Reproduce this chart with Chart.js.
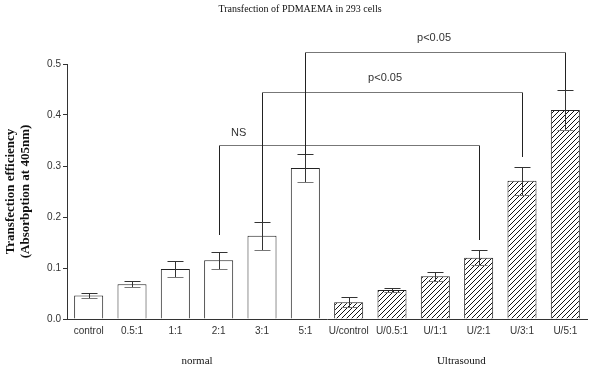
<!DOCTYPE html>
<html>
<head>
<meta charset="utf-8">
<script src="https://cdn.jsdelivr.net/npm/chart.js@4/dist/chart.umd.min.js"></script>
<style>
  html, body { margin: 0; padding: 0; background: #fff; }
  canvas { display: block; }
</style>
</head>
<body>
<canvas id="chart" width="600" height="387" style="width:600px;height:387px"></canvas>
<script>
// data
const categories = ['control', '0.5:1', '1:1', '2:1', '3:1', '5:1',
  'U/control', 'U/0.5:1', 'U/1:1', 'U/2:1', 'U/3:1', 'U/5:1']
const means = [0.046, 0.068, 0.098, 0.115, 0.163, 0.296,
  0.033, 0.057, 0.084, 0.120, 0.271, 0.410]
const errors = [0.0045, 0.006, 0.016, 0.0165, 0.0275, 0.028,
  0.010, 0.004, 0.009, 0.015, 0.028, 0.039]
const hatched = [false, false, false, false, false, false,
  true, true, true, true, true, true]

// significance brackets
const bracketFrom = [3, 4, 5]
const bracketTo = [9, 10, 11]
const bracketLevel = [0.341, 0.445, 0.524]
const bracketLegLeft = [0.165, 0.19, 0.322]
const bracketLegRight = [0.155, 0.318, 0.449]
const bracketText = ['NS', 'p<0.05', 'p<0.05']
const bracketTextAt = [3.46, 6.84, 7.97]
const bracketTextLevel = [0.365, 0.4725, 0.551]

const groupLabels = ['normal', 'Ultrasound']
const groupCenters = [2.5, 8.6]

const titleText = 'Transfection of PDMAEMA in 293 cells'
const yTitle = ['Transfection efficiency', '(Absorbption at 405nm)']

function makeHatch() {
  const s = 5
  const c = document.createElement('canvas')
  c.width = s; c.height = s
  const g = c.getContext('2d')
  g.fillStyle = '#fff'
  g.fillRect(0, 0, s, s)
  g.strokeStyle = '#111'
  g.lineWidth = 1
  g.beginPath()
  g.moveTo(0, s); g.lineTo(s, 0)
  g.moveTo(-1, 1); g.lineTo(1, -1)
  g.moveTo(s - 1, s + 1); g.lineTo(s + 1, s - 1)
  g.stroke()
  return document.getElementById('chart').getContext('2d').createPattern(c, 'repeat')
}
const hatch = makeHatch()

// x pixel for a (possibly fractional) category index
function xAt(scale, idx) {
  const i = Math.floor(idx)
  const a = scale.getPixelForTick(Math.min(i, categories.length - 1))
  if (idx === i) return a
  const b = scale.getPixelForTick(i + 1)
  return a + (b - a) * (idx - i)
}

const extrasPlugin = {
  id: 'extras',
  afterDatasetsDraw(chart) {
    const ctx = chart.ctx
    const { scales } = chart
    const x = scales.x, y = scales.y
    const cap = 8
    ctx.save()
    ctx.lineWidth = 1

    // error bars
    means.forEach((m, i) => {
      const px = Math.round(x.getPixelForTick(i)) + 0.5
      const top = Math.round(y.getPixelForValue(m + errors[i])) + 0.5
      const bot = Math.round(y.getPixelForValue(m - errors[i])) + 0.5
      ctx.strokeStyle = '#333'
      ctx.beginPath()
      ctx.moveTo(px, top); ctx.lineTo(px, bot)
      ctx.moveTo(px - cap, top); ctx.lineTo(px + cap, top)
      ctx.stroke()
      ctx.strokeStyle = '#777'
      ctx.beginPath()
      ctx.moveTo(px - cap, bot); ctx.lineTo(px + cap, bot)
      ctx.stroke()
    })

    // brackets
    bracketFrom.forEach((from, k) => {
      const x1 = Math.round(x.getPixelForTick(from)) + 0.5
      const x2 = Math.round(x.getPixelForTick(bracketTo[k])) + 0.5
      const yl = Math.round(y.getPixelForValue(bracketLevel[k])) + 0.5
      ctx.strokeStyle = '#222'
      ctx.beginPath()
      ctx.moveTo(x1, Math.round(y.getPixelForValue(bracketLegLeft[k])))
      ctx.lineTo(x1, yl)
      ctx.moveTo(x2, yl)
      ctx.lineTo(x2, Math.round(y.getPixelForValue(bracketLegRight[k])))
      ctx.stroke()
      ctx.strokeStyle = '#777'
      ctx.beginPath()
      ctx.moveTo(x1, yl); ctx.lineTo(x2, yl)
      ctx.stroke()

      ctx.fillStyle = '#333'
      ctx.font = '11px "Liberation Sans", Arial, sans-serif'
      ctx.textAlign = 'center'
      ctx.textBaseline = 'middle'
      ctx.fillText(bracketText[k], xAt(x, bracketTextAt[k]), y.getPixelForValue(bracketTextLevel[k]))
    })

    // group labels under the axis
    ctx.fillStyle = '#111'
    ctx.font = '11px "Liberation Serif", "Times New Roman", serif'
    ctx.textAlign = 'center'
    ctx.textBaseline = 'middle'
    groupLabels.forEach((t, i) => {
      ctx.fillText(t, xAt(x, groupCenters[i]), 361)
    })

    // title
    ctx.font = '10px "Liberation Serif", "Times New Roman", serif'
    ctx.fillText(titleText, 300, 9)

    // y axis title
    const cy = (chart.chartArea.top + chart.chartArea.bottom) / 2
    ctx.font = 'bold 13px "Liberation Serif", "Times New Roman", serif'
    ctx.translate(18, cy)
    ctx.rotate(-Math.PI / 2)
    ctx.fillText(yTitle[0], 0, -7)
    ctx.fillText(yTitle[1], 0, 8)
    ctx.restore()
  }
}

new Chart(document.getElementById('chart'), {
  type: 'bar',
  plugins: [extrasPlugin],
  data: {
    labels: categories,
    datasets: [{
      data: means,
      backgroundColor: hatched.map(h => h ? hatch : '#fff'),
      borderColor: '#222',
      borderWidth: 1,
      barPercentage: 0.67,
      categoryPercentage: 1,
    }]
  },
  options: {
    responsive: false,
    animation: false,
    layout: { padding: { top: 64, right: 13, left: 0, bottom: 0 } },
    scales: {
      x: {
        afterFit(scale) { scale.height = 68 },
        grid: { display: false, drawTicks: false },
        border: { display: true, color: '#333', width: 1 },
        ticks: {
          color: '#333',
          padding: 6,
          autoSkip: false,
          maxRotation: 0,
          font: { family: '"Liberation Sans", Arial, sans-serif', size: 10 },
        },
      },
      y: {
        min: 0,
        max: 0.5,
        afterFit(scale) { scale.width = 67 },
        grid: { drawOnChartArea: false, drawTicks: true, tickLength: 4, color: '#333' },
        border: { display: true, color: '#333', width: 1 },
        ticks: {
          stepSize: 0.1,
          color: '#333',
          padding: 2,
          font: { family: '"Liberation Sans", Arial, sans-serif', size: 10 },
          callback: v => v.toFixed(1),
        },
      }
    },
    plugins: {
      legend: { display: false },
      tooltip: { enabled: false },
    }
  }
})
</script>
</body>
</html>
